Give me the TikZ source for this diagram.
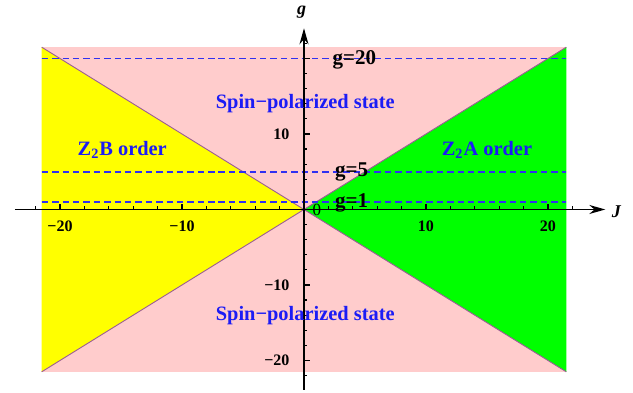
\documentclass[tikz,border=0pt]{standalone}
\usepackage{fontspec}
\setmainfont{Liberation Serif}
\usetikzlibrary{arrows.meta}
\definecolor{spinpink}{HTML}{FFCCCC}
\definecolor{zbyellow}{HTML}{FFFF00}
\definecolor{zagreen}{HTML}{00FF00}
\definecolor{edgeline}{HTML}{9A5C96}
\definecolor{cutline}{HTML}{3030F0}
\definecolor{phaselbl}{HTML}{1C1CF5}
\tikzset{
  ticklbl/.style={font=\fontsize{8}{9}\selectfont\bfseries},
  phase/.style={font=\fontsize{10.2}{12}\selectfont\bfseries,text=phaselbl},
  gcut/.style={cutline,line width=.9pt,dash pattern=on 3.2pt off 2pt},
  glbl/.style={anchor=west,font=\fontsize{10.5}{12}\selectfont\bfseries,inner sep=0pt}
}

\begin{document}
\begin{tikzpicture}[x=6.1pt,y=3.775pt,>={Stealth[length=8pt,width=4.5pt]},line width=.6pt]
\useasboundingbox (-24.92,-24.30) rectangle (26.97,27.75);
\fill[spinpink] (-21.5,-21.5) rectangle (21.5,21.5);
\fill[zbyellow] (0,0)--(-21.5,21.5)--(-21.5,-21.5)--cycle;
\fill[zagreen] (0,0)--(21.5,21.5)--(21.5,-21.5)--cycle;
\draw[edgeline,line width=.45pt] (-21.5,21.5)--(21.5,-21.5) (-21.5,-21.5)--(21.5,21.5);
\foreach \gv in {1,5,20}
  \draw[gcut] (-21.5,\gv)--(21.5,\gv);
% axes
\draw[->,line width=.7pt] (-23.7,0)--(24.7,0);
\draw[->,line width=.7pt] (0,-23.9)--(0,24.0);
\foreach \t in {-22,-18,-16,-14,-12,-8,-6,-4,-2,2,4,6,8,12,14,16,18,22}{
  \draw (\t,0)--(\t,.45);
  \draw (0,\t)--(.28,\t);
}
\foreach \t in {-20,-10,10,20}{
  \draw (\t,0)--(\t,.75);
  \draw (0,\t)--(.46,\t);
}
\foreach \t/\s in {-20/−20,-10/−10,10/10,20/20}
  \node[ticklbl,anchor=north] (xt\t) at (\t,-.6) {\s};
\foreach \t/\s in {-20/−20,-10/−10,10/10}
  \node[ticklbl,anchor=east] (yt\t) at (-.6,\t) {\s};
\node[font=\fontsize{8.5}{9}\selectfont] (zero) at (1.05,0) {0};
\node[font=\fontsize{9}{10}\selectfont\bfseries\itshape] (glab) at (-.2,26.2) {g};
\node[font=\fontsize{9}{10}\selectfont\bfseries\itshape] (jlab) at (25.6,-.3) {J};
% cuts
\node[glbl] (g20) at (2.3,19.8) {g=20};
\node[glbl] (g5) at (2.5,5) {g=5};
\node[glbl] (g1) at (2.5,.85) {g=1};
% phases
\node[phase] (spinup) at (.1,14) {Spin−polarized state};
\node[phase] (spindn) at (.1,-14) {Spin−polarized state};
\node[phase] (zb) at (-14.9,7.9) {Z\textsubscript{2}B order};
\node[phase] (za) at (15,7.9) {Z\textsubscript{2}A order};
\end{tikzpicture}
\end{document}
